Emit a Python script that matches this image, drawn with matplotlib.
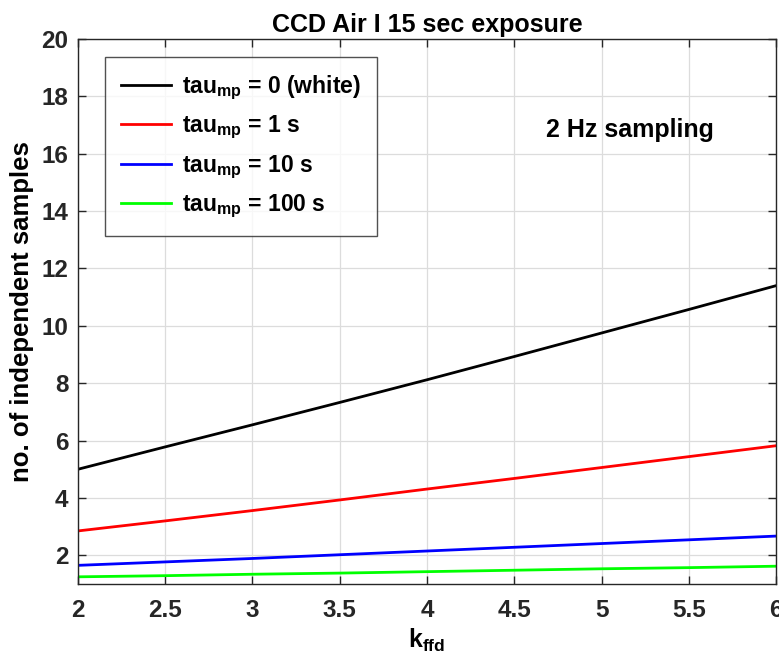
import matplotlib
matplotlib.use("Agg")
import matplotlib.pyplot as plt
import numpy as np

# data
k_ffd = [2.0, 2.5, 3.0, 3.5, 4.0, 4.5, 5.0, 5.5, 6.0]
white = [5.00, 5.78, 6.55, 7.33, 8.12, 8.93, 9.75, 10.57, 11.40]
tau1 = [2.85, 3.20, 3.56, 3.93, 4.31, 4.68, 5.06, 5.44, 5.82]
tau10 = [1.65, 1.77, 1.89, 2.02, 2.15, 2.28, 2.41, 2.54, 2.67]
tau100 = [1.25, 1.29, 1.34, 1.38, 1.43, 1.48, 1.53, 1.57, 1.62]

labels = ["tau$_{mp}$ = 0 (white)", "tau$_{mp}$ = 1 s",
          "tau$_{mp}$ = 10 s", "tau$_{mp}$ = 100 s"]
colors = ["black", "red", "blue", "#00ff00"]

plt.rcParams['font.family'] = ['Liberation Sans', 'DejaVu Sans']
plt.rcParams['font.weight'] = 'bold'
plt.rcParams['mathtext.fontset'] = 'custom'
plt.rcParams['mathtext.rm'] = 'Liberation Sans:bold'
plt.rcParams['mathtext.it'] = 'Liberation Sans:bold'
plt.rcParams['mathtext.bf'] = 'Liberation Sans:bold'

fig = plt.figure(figsize=(7.79, 6.61), dpi=100)
ax = fig.add_axes([0.1001, 0.1165, 0.8961, 0.8245])

for ys, c, lab in zip([white, tau1, tau10, tau100], colors, labels):
    ax.plot(k_ffd, ys, color=c, linewidth=2.0, label=lab)

ax.set_xlim(2, 6)
ax.set_ylim(1, 20)
ax.set_xticks(np.arange(2, 6.01, 0.5))
ax.set_xticklabels(["2", "2.5", "3", "3.5", "4", "4.5", "5", "5.5", "6"])
ax.set_yticks(np.arange(2, 20.1, 2))

ax.grid(True, color='#dcdcdc', linewidth=0.9)
ax.set_axisbelow(True)
for s in ax.spines.values():
    s.set_color('#262626')
    s.set_linewidth(1.0)
ax.tick_params(direction='in', top=True, right=True, length=6, width=1.0,
               colors='#262626', labelsize=17.5)
ax.tick_params(axis='x', pad=11)
ax.tick_params(axis='y', pad=7)
for t in ax.get_xticklabels() + ax.get_yticklabels():
    t.set_fontweight('bold')

ax.set_title("CCD Air I 15 sec exposure", fontsize=18, fontweight='bold', pad=5)
ax.set_xlabel("k$_{ffd}$", fontsize=18, fontweight='bold', labelpad=3)
ax.set_ylabel("no. of independent samples", fontsize=18.5, fontweight='bold', labelpad=5)

ax.text(4.68, 16.83, "2 Hz sampling", fontsize=18, fontweight='bold', va='center')

leg = ax.legend(loc='upper left', bbox_to_anchor=(0.0387, 0.9665), fontsize=16.5,
                frameon=True, fancybox=False, edgecolor='#262626',
                handlelength=2.2, handletextpad=0.45, labelspacing=0.53,
                borderpad=0.7, borderaxespad=0)
leg.get_frame().set_linewidth(1.0)

fig.savefig("out.png", dpi=100)
